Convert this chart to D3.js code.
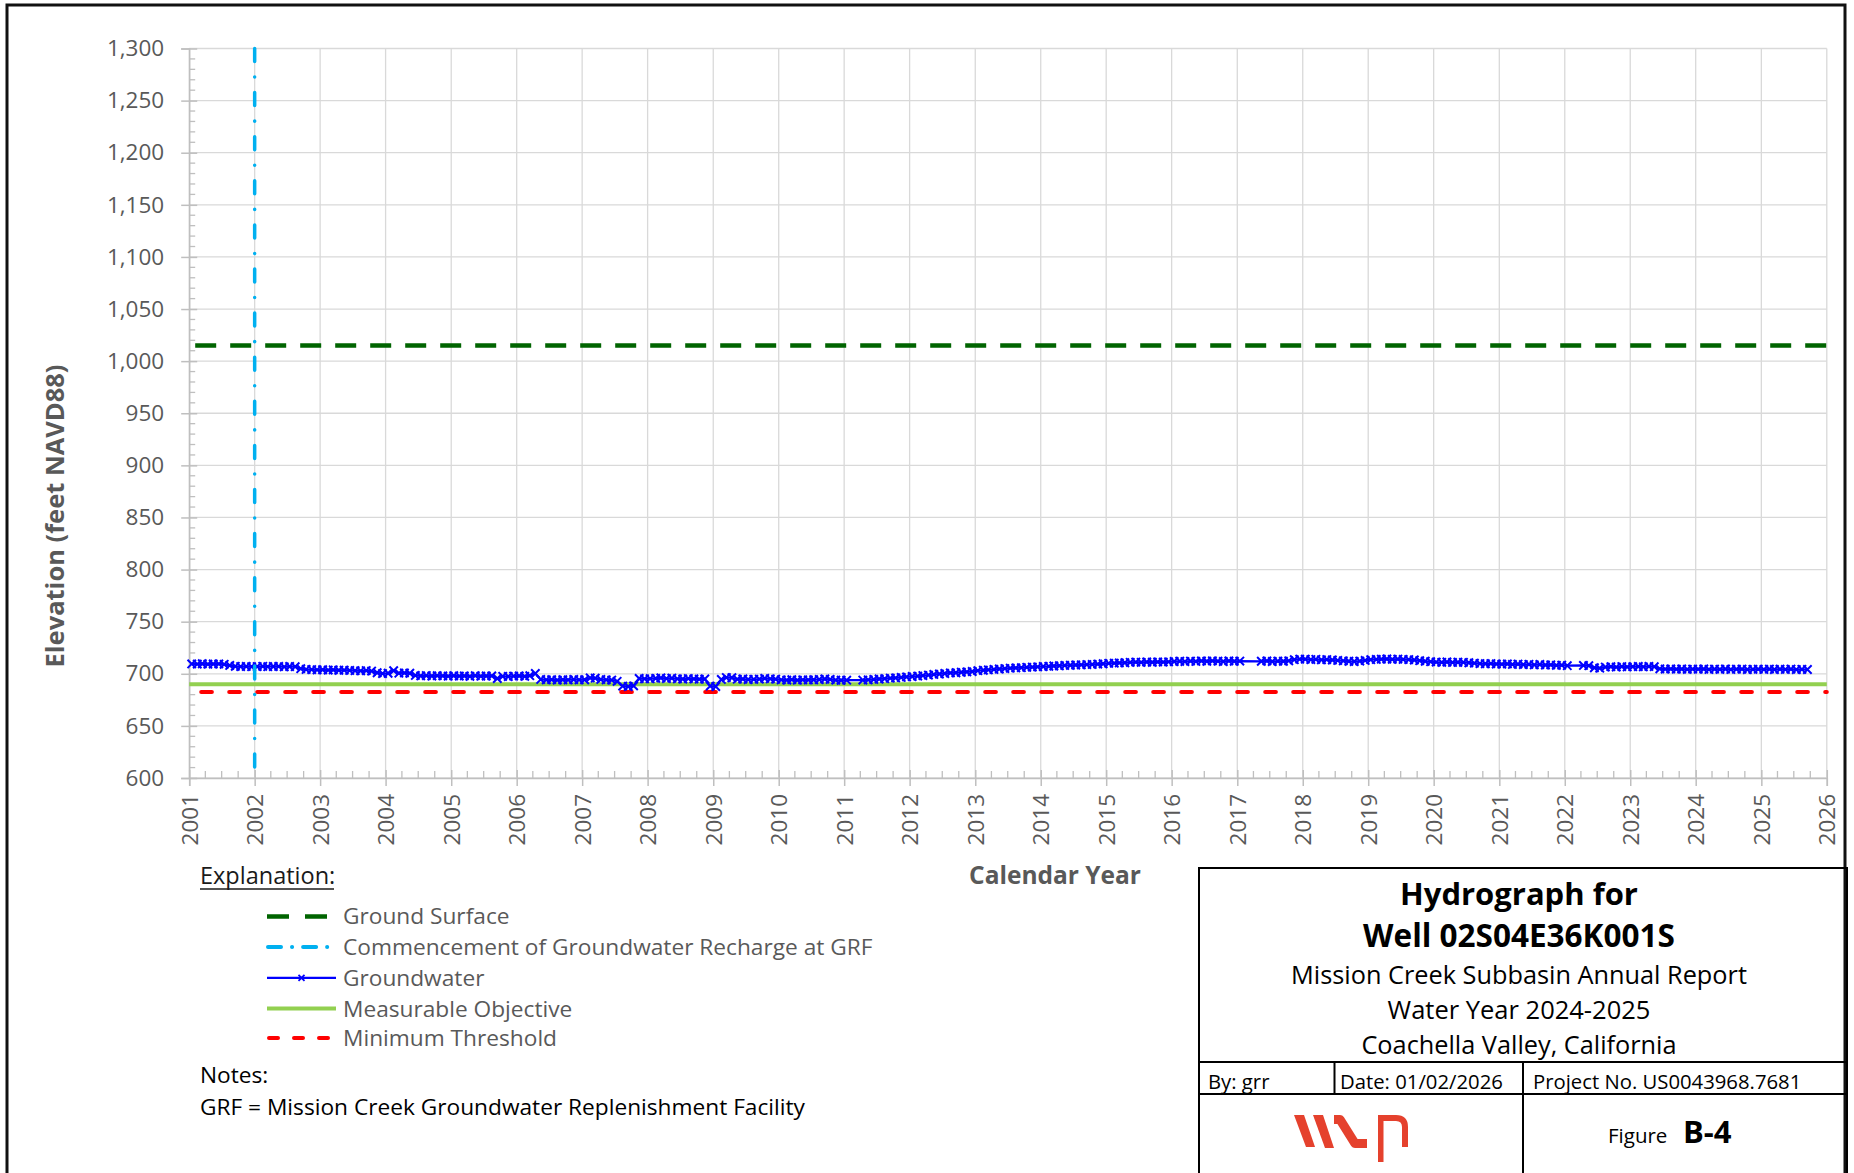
<!DOCTYPE html>
<html>
<head>
<meta charset="utf-8">
<script src="https://cdn.jsdelivr.net/npm/d3@7"></script>
<style>
  body { margin: 0; background: #fff; }
  svg { display: block; }
  text { font-family: "Open Sans", "Noto Sans", sans-serif; }
</style>
</head>
<body>
<svg id="chart" width="1854" height="1173"></svg>
<script>
// ---- chart values ----
const yTickValues = [600, 650, 700, 750, 800, 850, 900, 950, 1000, 1050, 1100, 1150, 1200, 1250, 1300];
const yearTicks = [2001, 2002, 2003, 2004, 2005, 2006, 2007, 2008, 2009, 2010, 2011, 2012, 2013,
                   2014, 2015, 2016, 2017, 2018, 2019, 2020, 2021, 2022, 2023, 2024, 2025, 2026];
const groundSurface = 1015;        // ft NAVD88
const measurableObjective = 690;   // ft NAVD88
const minimumThreshold = 682.5;    // ft NAVD88
const rechargeStart = [2002, 0, 1];

// monthly groundwater elevations (Jan..Dec), null = no reading
const gwFirstYear = 2001;
const groundwater = [
  [709.5, 709.3, 709.6, 709.2, 709.4, 709.5, 709.1, 708.0, 707.2, 706.9, 707.1, 706.8], // 2001
  [706.9, 707.2, 706.8, 707.0, 707.1, 706.7, 707.0, 706.8, 704.9, 704.2, 704.0, 703.8], // 2002
  [703.9, 703.6, 703.8, 703.4, 703.5, 703.2, 703.0, 702.8, 703.1, 702.6, 701.0, 700.2], // 2003
  [700.5, 703.0, 700.6, 700.8, 700.5, 698.4, 698.0, 698.3, 697.9, 698.2, 698.0, 697.7], // 2004
  [698.1, 697.8, 698.0, 697.6, 698.2, 697.7, 697.9, 698.0, 695.5, 697.6, 697.4, 697.8], // 2005
  [698.0, 697.6, 698.2, 700.3, 694.6, 694.2, 694.4, 694.0, 694.3, 694.1, 694.5, 694.2], // 2006
  [694.3, 696.0, 695.8, 694.6, 694.2, 694.0, 692.8, 688.2, 687.8, 688.4, 695.5, 695.2], // 2007
  [695.3, 695.6, 696.0, 695.4, 695.8, 695.2, 695.0, 695.4, 695.1, 694.8, 695.0, 688.2], // 2008
  [687.8, 694.6, 696.4, 696.2, 694.8, 695.0, 694.5, 694.7, 694.9, 695.6, 695.2, 694.8], // 2009
  [694.2, 694.0, 694.4, 693.9, 694.2, 694.1, 694.3, 694.5, 695.0, 694.6, 694.0, 693.8], // 2010
  [693.9, null,  null,  694.0, 694.2, 694.6, 695.0, 695.3, 695.8, 696.0, 696.5, 697.0], // 2011
  [697.4, 697.8, 698.3, 698.8, 699.4, 699.8, 700.3, 700.8, 701.0, 701.5, 701.8, 702.2], // 2012
  [703.0, 703.4, 703.8, 704.2, 704.6, 705.0, 705.4, 705.6, 705.9, 706.2, 706.4, 706.7], // 2013
  [707.0, 707.2, 707.5, 707.7, 708.0, 708.2, 708.4, 708.6, 708.8, 709.0, 709.3, 709.6], // 2014
  [710.0, 710.2, 710.4, 710.6, 711.0, 711.2, 711.0, 711.3, 711.1, 711.4, 711.2, 711.5], // 2015
  [711.8, 712.0, 711.7, 712.2, 711.9, 712.3, 712.0, 712.4, 712.1, 711.8, 712.3, 712.0], // 2016
  [712.2, null,  null,  null,  712.0, 712.3, 711.8, 712.2, 712.0, 712.4, 713.5, 714.0], // 2017
  [714.0, 713.6, 713.9, 713.4, 713.6, 713.2, 712.8, 712.4, 712.0, 711.8, 712.2, 712.8], // 2018
  [713.5, 713.8, 714.0, 714.2, 713.9, 714.1, 713.8, 713.6, 713.2, 712.6, 712.0, 711.6], // 2019
  [711.2, 711.0, 711.3, 710.9, 711.1, 711.0, 710.6, 710.2, 709.8, 709.6, 709.8, 709.4], // 2020
  [709.2, 709.5, 709.0, 709.3, 708.8, 709.1, 708.6, 708.9, 708.4, 708.6, 708.1, 708.3], // 2021
  [707.8, null,  null,  708.0, 707.8, 705.8, 705.4, 706.4, 706.8, 706.4, 706.9, 706.6], // 2022
  [706.8, 707.0, 706.7, 707.1, 706.8, 704.8, 704.5, 704.7, 704.4, 704.6, 704.3, 704.5], // 2023
  [704.4, 704.6, 704.2, 704.5, 704.3, 704.6, 704.2, 704.4, 704.5, 704.1, 704.3, 704.4], // 2024
  [704.2, 704.5, 704.1, 704.4, 704.2, 704.5, 704.0, 704.3, 704.1]                      // 2025
];

const legendLabels = ["Ground Surface", "Commencement of Groundwater Recharge at GRF",
                      "Groundwater", "Measurable Objective", "Minimum Threshold"];
const titleLines = ["Hydrograph for", "Well 02S04E36K001S", "Mission Creek Subbasin Annual Report",
                    "Water Year 2024-2025", "Coachella Valley, California"];
const infoRow = ["By: grr", "Date: 01/02/2026", "Project No. US0043968.7681"];

// ---- colours ----
const C = {
  grid: "#d9d9d9", axis: "#bfbfbf", label: "#595959",
  ground: "#006400", recharge: "#00b0f0", gw: "#0000ff",
  mo: "#92d050", mt: "#ff0000", logo: "#e5412d"
};

const svg = d3.select("#chart");
svg.append("rect").attr("width", 1854).attr("height", 1173).attr("fill", "#fff");

const plot = { left: 189.2, right: 1826.8, top: 48.5, bottom: 778 };
const x = d3.scaleTime()
  .domain([new Date(2001, 0, 1), new Date(2026, 0, 1)])
  .range([plot.left, plot.right]);
const y = d3.scaleLinear().domain([600, 1300]).range([plot.bottom, plot.top]);

// ---- gridlines ----
const grid = svg.append("g");
grid.selectAll("line.h").data(yTickValues).join("line")
  .attr("x1", plot.left).attr("x2", plot.right)
  .attr("y1", d => y(d)).attr("y2", d => y(d))
  .attr("stroke", C.grid).attr("stroke-width", 1.3);
grid.selectAll("line.v").data(yearTicks).join("line")
  .attr("x1", d => x(new Date(d, 0, 1))).attr("x2", d => x(new Date(d, 0, 1)))
  .attr("y1", plot.top).attr("y2", plot.bottom)
  .attr("stroke", C.grid).attr("stroke-width", 1.3);

// ---- y axis ----
const yAxis = svg.append("g").attr("transform", `translate(${plot.left},0)`)
  .call(d3.axisLeft(y).tickValues(yTickValues).tickFormat(d3.format(",")).tickSize(8).tickPadding(17));
yAxis.select(".domain").attr("stroke", C.axis).attr("stroke-width", 1.5);
yAxis.selectAll(".tick line").attr("stroke", C.axis).attr("stroke-width", 1.5).attr("x2", -8).attr("x1", 8);
yAxis.selectAll(".tick text").attr("fill", C.label).attr("font-size", 22.5)
  .attr("font-family", '"Open Sans", sans-serif');
// minor ticks every 10 ft, drawn inside
const yMinor = d3.range(600, 1301, 10).filter(v => v % 50 !== 0);
svg.append("g").selectAll("line").data(yMinor).join("line")
  .attr("x1", plot.left).attr("x2", plot.left + 6)
  .attr("y1", d => y(d)).attr("y2", d => y(d))
  .attr("stroke", C.axis).attr("stroke-width", 1.3);

// ---- x axis ----
const xAxis = svg.append("g").attr("transform", `translate(0,${plot.bottom})`)
  .call(d3.axisBottom(x).tickValues(yearTicks.map(v => new Date(v, 0, 1)))
    .tickFormat(d3.timeFormat("%Y")).tickSize(8).tickPadding(0));
xAxis.select(".domain").attr("stroke", C.axis).attr("stroke-width", 1.5);
xAxis.selectAll(".tick line").attr("stroke", C.axis).attr("stroke-width", 1.5).attr("y1", -8);
xAxis.selectAll(".tick text")
  .attr("fill", C.label).attr("font-size", 22.5).attr("font-family", '"Open Sans", sans-serif')
  .attr("text-anchor", "end").attr("dy", null).attr("y", 0)
  .attr("transform", "translate(8,16) rotate(-90)");
// quarterly minor ticks, drawn inside
const xMinor = [];
yearTicks.slice(0, -1).forEach(yr => [3, 6, 9].forEach(m => xMinor.push(new Date(yr, m, 1))));
svg.append("g").selectAll("line").data(xMinor).join("line")
  .attr("x1", d => x(d)).attr("x2", d => x(d))
  .attr("y1", plot.bottom).attr("y2", plot.bottom - 7)
  .attr("stroke", C.axis).attr("stroke-width", 1.3);

// ---- axis titles ----
svg.append("text").attr("transform", "translate(64,516) rotate(-90)")
  .attr("text-anchor", "middle").attr("font-size", 25.5).attr("font-weight", 700)
  .attr("fill", C.label).text("Elevation (feet NAVD88)");
svg.append("text").attr("x", 1055).attr("y", 884)
  .attr("text-anchor", "middle").attr("font-size", 24.5).attr("font-weight", 700)
  .attr("fill", C.label).text("Calendar Year");

// ---- reference lines ----
const refs = svg.append("g");
refs.append("line").attr("x1", plot.left).attr("x2", plot.right)
  .attr("y1", y(measurableObjective)).attr("y2", y(measurableObjective))
  .attr("stroke", C.mo).attr("stroke-width", 4);
refs.append("line").attr("x1", plot.left).attr("x2", plot.right)
  .attr("y1", y(minimumThreshold)).attr("y2", y(minimumThreshold))
  .attr("stroke", C.mt).attr("stroke-width", 4).attr("stroke-linecap", "round")
  .attr("stroke-dasharray", "10.7,17.3").attr("stroke-dashoffset", -12);
refs.append("line").attr("x1", plot.left).attr("x2", plot.right)
  .attr("y1", y(groundSurface)).attr("y2", y(groundSurface))
  .attr("stroke", C.ground).attr("stroke-width", 4.5)
  .attr("stroke-dasharray", "21,14").attr("stroke-dashoffset", -6);

// ---- groundwater series ----
const gwPoints = [];
groundwater.forEach((row, i) => row.forEach((v, m) => {
  if (v !== null) gwPoints.push({ date: new Date(gwFirstYear + i, m, 15), value: v });
}));
const gwLine = d3.line().x(d => x(d.date)).y(d => y(d.value));
svg.append("path").datum(gwPoints).attr("d", gwLine)
  .attr("fill", "none").attr("stroke", C.gw).attr("stroke-width", 2.2);
const xMark = "M-4.2,-4.2L4.2,4.2M-4.2,4.2L4.2,-4.2";
svg.append("g").selectAll("path").data(gwPoints).join("path")
  .attr("transform", d => `translate(${x(d.date)},${y(d.value)})`)
  .attr("d", xMark).attr("stroke", C.gw).attr("stroke-width", 2).attr("fill", "none");

// ---- recharge commencement (vertical) ----
const xr = x(new Date(...rechargeStart));
svg.append("line").attr("x1", xr).attr("x2", xr)
  .attr("y1", plot.top).attr("y2", plot.bottom)
  .attr("stroke", C.recharge).attr("stroke-width", 3.5).attr("stroke-linecap", "round")
  .attr("stroke-dasharray", "13,15.5,0.1,15.5");

// ---- legend ----
const lg = svg.append("g");
lg.append("text").attr("x", 200).attr("y", 884).attr("font-size", 23.5).attr("fill", "#1a1a1a")
  .text("Explanation:");
lg.append("line").attr("x1", 200).attr("x2", 334).attr("y1", 889).attr("y2", 889)
  .attr("stroke", "#1a1a1a").attr("stroke-width", 1.3);
const legendY = [916.4, 947.1, 977.9, 1008.6, 1038.1];
const lx1 = 267, lx2 = 336;
// symbols
lg.append("line").attr("x1", lx1).attr("x2", lx2 - 8).attr("y1", legendY[0]).attr("y2", legendY[0])
  .attr("stroke", C.ground).attr("stroke-width", 4.5).attr("stroke-dasharray", "22,16");
lg.append("line").attr("x1", lx1 + 1).attr("x2", lx2).attr("y1", legendY[1]).attr("y2", legendY[1])
  .attr("stroke", C.recharge).attr("stroke-width", 4).attr("stroke-linecap", "round")
  .attr("stroke-dasharray", "13,11,0.1,11");
lg.append("line").attr("x1", lx1).attr("x2", lx2).attr("y1", legendY[2]).attr("y2", legendY[2])
  .attr("stroke", C.gw).attr("stroke-width", 2.2);
lg.append("path").attr("transform", `translate(${(lx1 + lx2) / 2},${legendY[2]})`)
  .attr("d", "M-3,-3L3,3M-3,3L3,-3").attr("stroke", C.gw).attr("stroke-width", 1.8);
lg.append("line").attr("x1", lx1).attr("x2", lx2).attr("y1", legendY[3]).attr("y2", legendY[3])
  .attr("stroke", C.mo).attr("stroke-width", 4);
lg.append("line").attr("x1", lx1 + 2).attr("x2", lx2 - 2).attr("y1", legendY[4]).attr("y2", legendY[4])
  .attr("stroke", C.mt).attr("stroke-width", 4).attr("stroke-linecap", "round")
  .attr("stroke-dasharray", "9,16");
lg.selectAll("text.item").data(legendLabels).join("text").attr("class", "item")
  .attr("x", 343).attr("y", (d, i) => legendY[i] + 8)
  .attr("font-size", 22.7).attr("fill", C.label).text(d => d);
lg.append("text").attr("x", 200).attr("y", 1083).attr("font-size", 22.7).attr("fill", "#000").text("Notes:");
lg.append("text").attr("x", 200).attr("y", 1115).attr("font-size", 22.7).attr("fill", "#000")
  .text("GRF = Mission Creek Groundwater Replenishment Facility");

// ---- outer frame ----
const frame = svg.append("g").attr("stroke", "#111").attr("stroke-width", 3).attr("fill", "none");
frame.append("path").attr("d", "M7,1173V5H1845V1173");

// ---- title block ----
const tb = svg.append("g");
const box = { left: 1199, right: 1847, top: 868, row1: 1062, row2: 1094, bottom: 1173 };
const tbStroke = g => g.attr("stroke", "#000").attr("stroke-width", 2);
tb.append("path").call(tbStroke).attr("fill", "none")
  .attr("d", `M${box.left},${box.bottom}V${box.top}H${box.right}V${box.bottom}`);
tb.append("line").call(tbStroke).attr("x1", box.left).attr("x2", box.right).attr("y1", box.row1).attr("y2", box.row1);
tb.append("line").call(tbStroke).attr("x1", box.left).attr("x2", box.right).attr("y1", box.row2).attr("y2", box.row2);
tb.append("line").call(tbStroke).attr("x1", 1334.5).attr("x2", 1334.5).attr("y1", box.row1).attr("y2", box.row2);
tb.append("line").call(tbStroke).attr("x1", 1523).attr("x2", 1523).attr("y1", box.row1).attr("y2", box.bottom);

const cx = 1519;
const titleY = [905, 947, 984, 1019, 1054];
const titleSize = [31, 31.5, 25.3, 25.5, 25.3];
tb.selectAll("text.t").data(titleLines).join("text").attr("class", "t")
  .attr("x", cx).attr("y", (d, i) => titleY[i]).attr("text-anchor", "middle")
  .attr("font-size", (d, i) => titleSize[i]).attr("font-weight", (d, i) => i < 2 ? 700 : 400)
  .attr("fill", "#000").text(d => d);
const infoX = [1208, 1340, 1533];
tb.selectAll("text.info").data(infoRow).join("text").attr("class", "info")
  .attr("x", (d, i) => infoX[i]).attr("y", 1089).attr("font-size", 20.3).attr("fill", "#000").text(d => d);
tb.append("text").attr("x", 1608).attr("y", 1143).attr("font-size", 20.5).attr("fill", "#000").text("Figure");
tb.append("text").attr("x", 1683).attr("y", 1143).attr("font-size", 31).attr("font-weight", 700)
  .attr("font-family", '"Liberation Sans", Arial, sans-serif').attr("fill", "#000").text("B-4");

// company logo mark
const logo = tb.append("g").attr("fill", C.logo);
logo.append("polygon").attr("points", "1294,1115 1304,1115 1315,1147 1306,1147");
logo.append("polygon").attr("points", "1313,1115 1323,1115 1334,1148 1325,1148");
logo.append("path").attr("fill", "none").attr("stroke", C.logo).attr("stroke-width", 9)
  .attr("stroke-linejoin", "round")
  .attr("d", "M1334,1119.5H1340L1355,1143.5H1367");
logo.append("rect").attr("x", 1378).attr("y", 1115).attr("width", 5.5).attr("height", 47);
logo.append("path").attr("fill", "none").attr("stroke", C.logo).attr("stroke-width", 6)
  .attr("d", "M1381,1118H1396Q1405,1118 1405,1127V1147");
</script>
</body>
</html>
